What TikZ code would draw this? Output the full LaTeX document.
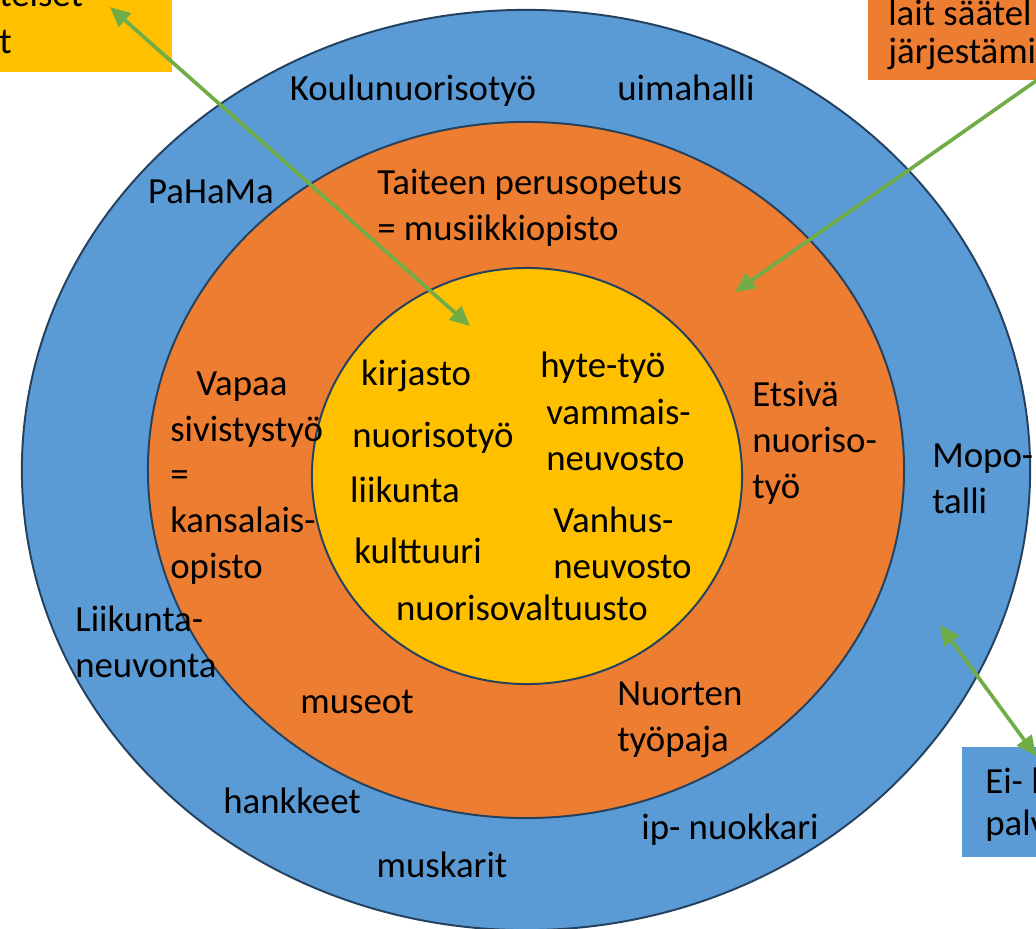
\documentclass[tikz,border=0pt]{standalone}
\usepackage{fontspec}
\setmainfont{Carlito}
\usepackage{xcolor}
\usetikzlibrary{shapes.geometric, arrows.meta, positioning}
\definecolor{ringblue}{HTML}{5B9BD5}
\definecolor{ringorange}{HTML}{ED7D31}
\definecolor{ringyellow}{HTML}{FFC000}
\definecolor{edgeblue}{HTML}{24425F}
\definecolor{arrowgreen}{HTML}{70AD47}

\begin{document}
\begin{tikzpicture}[x=0.025cm, y=-0.025cm]
\tikzstyle{ring} = [ellipse, draw=edgeblue, line width=1.4pt, inner sep=0pt]
\tikzstyle{note} = [rectangle, inner sep=0pt, anchor=north west]
\tikzstyle{txt} = [inner sep=0pt, align=left,
    font={\fontsize{26.2}{32.4}\selectfont}]
\tikzstyle{arrow} = [draw=arrowgreen, line width=2.6pt,
    >={Triangle[length=0.5cm, width=0.45cm]}]

\useasboundingbox (0,0) rectangle (1036,928);
\clip (0,0) rectangle (1036,928);

% --- rings ---
\node (outer) [ring, fill=ringblue, minimum width=25.2cm, minimum height=23cm] at (526,470) {};
\node (middle) [ring, fill=ringorange, minimum width=18.9cm, minimum height=17.4cm] at (526,470) {};
\node (inner) [ring, fill=ringyellow, minimum width=10.75cm, minimum height=10.4cm] at (527,476) {};

% --- corner boxes (cut by the page edge) ---
\node (leftbox) [note, fill=ringyellow, minimum width=4.425cm, minimum height=1.925cm] at (-5,-5) {};
\node (rightbox) [note, fill=ringorange, minimum width=4.325cm, minimum height=2.125cm] at (868,-5) {};
\node (bottombox) [note, fill=ringblue, minimum width=1.975cm, minimum height=2.75cm] at (962,747) {};

% multi-line texts are placed by the baseline of their last line
\node (lefttext) [txt, anchor=base west, font={\fontsize{26.2}{33.4}\selectfont}] at (-1,53) {teiset\\t};
\node (righttext) [txt, anchor=base west, font={\fontsize{26.2}{27}\selectfont}] at (888,63) {lait säätel\\järjestämi};
\node (bottomtext) [txt, anchor=base west, font={\fontsize{26.2}{29.8}\selectfont}] at (985,835) {Ei- l\\palv};

% --- outer ring ---
\node (koulu) [txt, anchor=base] at (413,100) {Koulunuorisotyö};
\node (uima) [txt, anchor=base] at (686,100) {uimahalli};
\node (pahama) [txt, anchor=base] at (211,203) {PaHaMa};
\node (mopo) [txt, anchor=base west] at (932,513) {Mopo-\\talli};
\node (neuvonta) [txt, anchor=base west] at (75,677) {Liikunta-\\neuvonta};
\node (hankkeet) [txt, anchor=base] at (292,813) {hankkeet};
\node (nuokkari) [txt, anchor=base] at (730,839) {ip- nuokkari};
\node (muskarit) [txt, anchor=base] at (442,877) {muskarit};

% --- middle ring ---
\node (taiteen) [txt, anchor=base west] at (377,240) {Taiteen perusopetus\\= musiikkiopisto};
\node (vapaa) [txt, anchor=base west] at (170,578) {\hspace*{0.65cm}Vapaa\\sivistystyö\\=\\kansalais-\\opisto};
\node (etsiva) [txt, anchor=base west] at (752,498) {Etsivä\\nuoriso-\\työ};
\node (museot) [txt, anchor=base] at (357,713) {museot};
\node (tyopaja) [txt, anchor=base west] at (617,751) {Nuorten\\työpaja};

% --- inner circle ---
\node (kirjasto) [txt, anchor=base] at (416,385) {kirjasto};
\node (hyte) [txt, anchor=base west] at (540,377) {hyte-työ};
\node (vammais) [txt, anchor=base west] at (546,470) {vammais-\\neuvosto};
\node (nuoriso) [txt, anchor=base] at (433,447) {nuorisotyö};
\node (liikunta) [txt, anchor=base] at (405,502) {liikunta};
\node (vanhus) [txt, anchor=base west] at (553,578) {Vanhus-\\neuvosto};
\node (kulttuuri) [txt, anchor=base] at (418,563) {kulttuuri};
\node (valtuusto) [txt, anchor=base] at (522,620) {nuorisovaltuusto};

% --- arrows ---
\coordinate (lefttip) at (110,7);
\coordinate (yellowtip) at (470,326);
\coordinate (offright) at (1080,50);
\coordinate (orangetip) at (735,292);
\coordinate (bluetip) at (940,625);
\coordinate (bottomtip) at (1036,756);

\draw [arrow, <->] (lefttip) -- (yellowtip);
\draw [arrow, ->] (offright) -- (orangetip);
\draw [arrow, <->] (bluetip) -- (bottomtip);
\end{tikzpicture}
\end{document}
